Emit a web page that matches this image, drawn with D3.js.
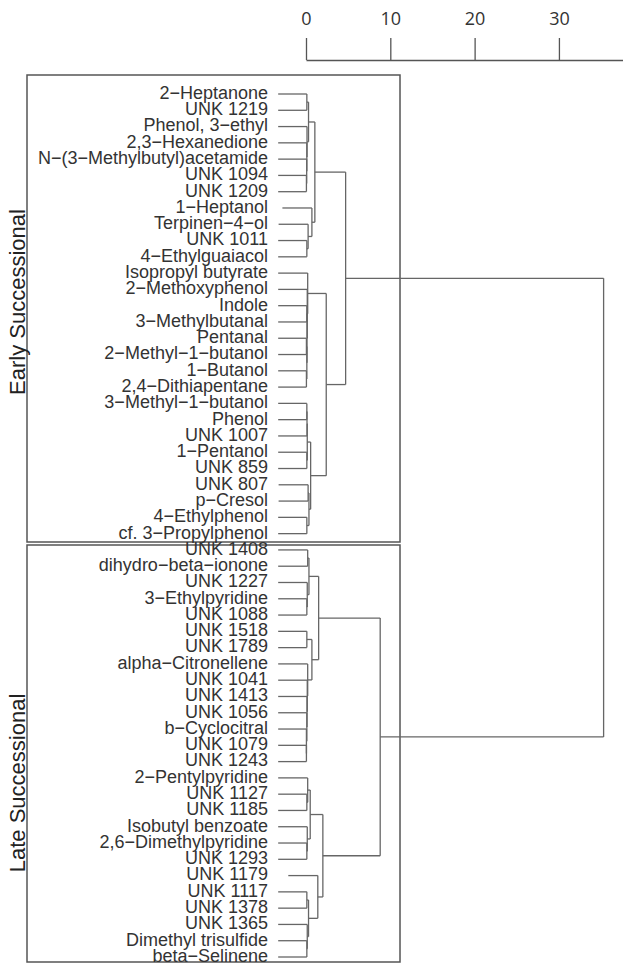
<!DOCTYPE html>
<html>
<head>
<meta charset="utf-8">
<script src="https://cdn.jsdelivr.net/npm/d3@7"></script>
<style>
  body { margin: 0; background: #fff; }
  svg { display: block; }
</style>
</head>
<body>
<div id="chart"></div>
<script>
// Leaf labels, top to bottom
const earlyLeaves = [
  '2−Heptanone', 'UNK 1219', 'Phenol, 3−ethyl', '2,3−Hexanedione',
  'N−(3−Methylbutyl)acetamide', 'UNK 1094', 'UNK 1209', '1−Heptanol',
  'Terpinen−4−ol', 'UNK 1011', '4−Ethylguaiacol', 'Isopropyl butyrate',
  '2−Methoxyphenol', 'Indole', '3−Methylbutanal', 'Pentanal',
  '2−Methyl−1−butanol', '1−Butanol', '2,4−Dithiapentane', '3−Methyl−1−butanol',
  'Phenol', 'UNK 1007', '1−Pentanol', 'UNK 859', 'UNK 807', 'p−Cresol',
  '4−Ethylphenol', 'cf. 3−Propylphenol'
];
const lateLeaves = [
  'UNK 1408', 'dihydro−beta−ionone', 'UNK 1227', '3−Ethylpyridine', 'UNK 1088',
  'UNK 1518', 'UNK 1789', 'alpha−Citronellene', 'UNK 1041', 'UNK 1413',
  'UNK 1056', 'b−Cyclocitral', 'UNK 1079', 'UNK 1243', '2−Pentylpyridine',
  'UNK 1127', 'UNK 1185', 'Isobutyl benzoate', '2,6−Dimethylpyridine',
  'UNK 1293', 'UNK 1179', 'UNK 1117', 'UNK 1378', 'UNK 1365',
  'Dimethyl trisulfide', 'beta−Selinene'
];
const groups = ['Early Successional', 'Late Successional'];

// Clusters: [height, childA, childB], leaves are indexes into the group's labels
const earlyTree = [4.7,
  [1.05,
    [0.3, [0.1, 0, 1], [0.12, 2, [0.1, 3, [0.08, 4, [0.05, 5, 6]]]]],
    [0.7, 7, [0.25, 8, [0.1, 9, 10]]]],
  [2.4,
    [0.2, 11, [0.15, 12, [0.12, [0.1, 13, 14], [0.1, [0.05, 15, 16], [0.05, 17, 18]]]]],
    [0.55, [0.15, [0.12, [0.1, 19, 20], 21], [0.1, 22, 23]],
           [0.35, [0.25, 24, 25], [0.1, 26, 27]]]]
];
const lateTree = [8.8,
  [1.5,
    [0.35, [0.2, 0, 1], [0.15, 2, [0.1, 3, 4]]],
    [0.7, [0.1, 5, 6],
          [0.2, 7, [0.15, 8, [0.12, 9, [0.1, 10, [0.05, 11, [0.05, 12, 13]]]]]]]],
  [2.0,
    [0.5, [0.2, 14, [0.1, 15, 16]], [0.15, 17, [0.1, 18, 19]]],
    [1.4, 20, [0.3, [0.1, 21, 22], [0.15, 23, [0.1, 24, 25]]]]]
];
const rootHeight = 35.3;
const xTicks = [0, 10, 20, 30];

const width = 623, height = 964;
const hang = 3.5;       // leaf lines hang below their merge height
const leafFloor = -3.3; // where the hanging leaf lines start at most

const svg = d3.select('#chart').append('svg')
  .attr('width', width)
  .attr('height', height);

// tag leaves with their group and label so one tree can be built
const tag = (t, g, labels) => Array.isArray(t)
  ? [t[0], tag(t[1], g, labels), tag(t[2], g, labels)]
  : {group: g, name: labels[t]};

const root = d3.hierarchy(
  [rootHeight, tag(earlyTree, 0, earlyLeaves), tag(lateTree, 1, lateLeaves)],
  d => Array.isArray(d) ? d.slice(1) : null
);

const leaves = root.leaves();

const x = d3.scaleLinear()
  .domain([0, 37.6])
  .range([306, width]);

const y = d3.scalePoint()
  .domain(leaves.map(d => d.data.name))
  .range([94, 957]);

// positions
root.eachAfter(d => {
  if (!d.children) {
    d.y = y(d.data.name);
    d.h = Math.max(leafFloor, d.parent.data[0] - hang);
  } else {
    d.h = d.data[0];
    d.y = (d.children[0].y + d.children[d.children.length - 1].y) / 2;
  }
});

// axis
svg.append('g')
  .attr('transform', 'translate(0,60)')
  .call(d3.axisTop(x).tickValues(xTicks).tickSize(22).tickSizeOuter(0).tickPadding(13))
  .call(g => g.selectAll('path, line').attr('stroke', '#555').attr('stroke-width', 1.3))
  .call(g => g.selectAll('text')
    .attr('fill', '#333')
    .style('font', '18px "Open Sans", sans-serif'));

// group boxes
const boxes = [
  {y0: 75, y1: 542},
  {y0: 545, y1: 962}
];
const titleY = [302, 783];

svg.append('g')
  .selectAll('rect')
  .data(boxes)
  .join('rect')
  .attr('x', 27)
  .attr('y', d => d.y0)
  .attr('width', x(11.15) - 27)
  .attr('height', d => d.y1 - d.y0)
  .attr('fill', 'none')
  .attr('stroke', '#555')
  .attr('stroke-width', 1.5);

svg.append('g')
  .selectAll('text')
  .data(groups)
  .join('text')
  .attr('transform', (d, i) => `translate(25,${titleY[i]}) rotate(-90)`)
  .attr('text-anchor', 'middle')
  .attr('fill', '#222')
  .style('font', '22px "Liberation Sans", Arial, sans-serif')
  .text(d => d);

// dendrogram links
const links = svg.append('g')
  .attr('fill', 'none')
  .attr('stroke', '#666')
  .attr('stroke-width', 1.3);

links.selectAll('path.v')
  .data(root.descendants().filter(d => d.children))
  .join('path')
  .attr('class', 'v')
  .attr('d', d => `M${x(d.h)},${d.children[0].y}V${d.children[d.children.length - 1].y}`);

links.selectAll('path.h')
  .data(root.descendants().filter(d => d.parent))
  .join('path')
  .attr('class', 'h')
  .attr('d', d => `M${x(d.h)},${d.y}H${x(d.parent.h)}`);

// leaf labels
svg.append('g')
  .attr('text-anchor', 'end')
  .attr('fill', '#333')
  .style('font', '18px "Liberation Sans", Arial, sans-serif')
  .selectAll('text')
  .data(leaves)
  .join('text')
  .attr('x', 268)
  .attr('y', d => d.y)
  .attr('dy', '0.27em')
  .text(d => d.data.name);
</script>
</body>
</html>
